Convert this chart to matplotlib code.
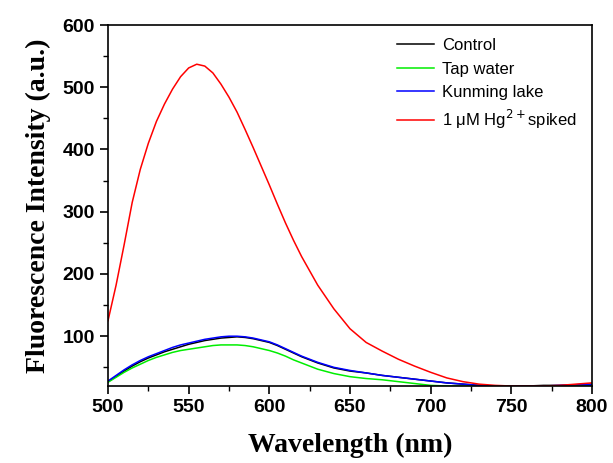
import matplotlib
matplotlib.use("Agg")
import matplotlib.pyplot as plt
from matplotlib.ticker import MultipleLocator

wavelength = [500, 505, 510, 515, 520, 525, 530, 535, 540, 545, 550, 555, 560, 565,
              570, 575, 580, 585, 590, 595, 600, 605, 610, 615, 620, 630, 640, 650,
              660, 670, 680, 690, 700, 710, 720, 730, 740, 750, 760, 770, 780, 790, 800]

control = [27, 35, 44, 52, 59, 65, 70, 75, 79, 83, 87, 90, 93, 95,
           97, 98, 99, 98, 96, 93, 90, 85, 79, 73, 67, 57, 49, 44,
           41, 37, 34, 31, 28, 25, 23, 21, 20, 20, 20, 21, 21, 22, 23]

tap_water = [26, 34, 42, 49, 55, 61, 66, 70, 74, 77, 79, 81, 83, 85,
             86, 86, 86, 85, 83, 80, 77, 73, 68, 62, 57, 47, 40, 35,
             32, 30, 27, 24, 21, 20, 20, 20, 20, 20, 20, 20, 20, 21, 21]

kunming_lake = [28, 37, 46, 54, 61, 67, 72, 77, 82, 86, 89, 92, 95, 97,
                99, 100, 100, 99, 97, 94, 91, 86, 80, 74, 68, 58, 50, 45,
                41, 37, 34, 31, 28, 25, 23, 21, 20, 20, 20, 20, 21, 22, 22]

hg_spiked = [125, 182, 247, 315, 368, 410, 445, 473, 497, 517, 531, 537, 534, 523,
             505, 484, 460, 432, 403, 373, 343, 312, 282, 254, 228, 182, 144, 112,
             90, 76, 63, 52, 42, 33, 27, 23, 21, 20, 20, 20, 21, 23, 25]

labels = ["Control", "Tap water", "Kunming lake", "1 \u03bcM Hg$^{2+}$spiked"]
colors = ["#000000", "#00ee00", "#0000ff", "#ff0000"]

fig = plt.figure(figsize=(6.13, 4.63), dpi=100)
ax = fig.add_axes([0.1762, 0.1663, 0.7895, 0.7797])

for series, lab, col in zip([control, tap_water, kunming_lake, hg_spiked], labels, colors):
    ax.plot(wavelength, series, color=col, lw=1.1, label=lab)

ax.set_xlim(500, 800)
ax.set_ylim(20, 600)
ax.xaxis.set_major_locator(MultipleLocator(50))
ax.xaxis.set_minor_locator(MultipleLocator(25))
ax.set_yticks([100, 200, 300, 400, 500, 600])
ax.yaxis.set_minor_locator(MultipleLocator(50))
ax.tick_params(axis="both", which="major", direction="out", length=6, width=1.2,
               labelsize=14, top=False, right=False)
ax.tick_params(axis="both", which="minor", direction="out", length=3.5, width=1.0,
               top=False, right=False)
for lbl in ax.get_xticklabels() + ax.get_yticklabels():
    lbl.set_fontfamily("Liberation Sans")
    lbl.set_fontweight("bold")
for sp in ax.spines.values():
    sp.set_linewidth(1.2)

ax.set_xlabel("Wavelength (nm)", fontfamily="Liberation Serif", fontweight="bold",
              fontsize=20, labelpad=12)
ax.set_ylabel("Fluorescence Intensity (a.u.)", fontfamily="Liberation Serif",
              fontweight="bold", fontsize=20, labelpad=8)

leg = ax.legend(loc="upper right", frameon=False,
                prop={"family": "Liberation Sans", "size": 12},
                handlelength=2.2, handletextpad=0.5, labelspacing=0.5,
                bbox_to_anchor=(1.0, 1.005))

fig.savefig("out.png", dpi=100)
